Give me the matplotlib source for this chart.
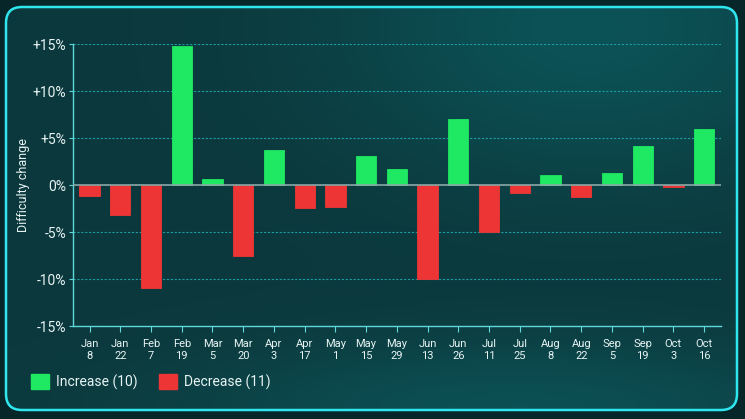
import matplotlib.pyplot as plt
import numpy as np
from matplotlib.patches import FancyBboxPatch, Patch

labels = ['Jan\n8', 'Jan\n22', 'Feb\n7', 'Feb\n19', 'Mar\n5', 'Mar\n20', 'Apr\n3',
          'Apr\n17', 'May\n1', 'May\n15', 'May\n29', 'Jun\n13', 'Jun\n26', 'Jul\n11',
          'Jul\n25', 'Aug\n8', 'Aug\n22', 'Sep\n5', 'Sep\n19', 'Oct\n3', 'Oct\n16']
changes = [-1.2, -3.2, -11.0, 14.8, 0.6, -7.6, 3.7, -2.4, -2.3, 3.1, 1.7,
           -10.0, 7.0, -5.0, -0.8, 1.1, -1.25, 1.25, 4.1, -0.2, 6.0]
yticks = [-15, -10, -5, 0, 5, 10, 15]
ytick_labels = ['-15%', '-10%', '-5%', '0%', '+5%', '+10%', '+15%']

green = '#1fe862'
red = '#ee3535'
text_col = '#e8f4f4'

plt.rcParams['font.family'] = ['Roboto', 'DejaVu Sans']

W, H = 745, 419
fig = plt.figure(figsize=(W / 100, H / 100), dpi=100)
fig.patch.set_facecolor('#06262a')

# card background with gradient
bg = fig.add_axes([0, 0, 1, 1], zorder=-5)
bg.set_xlim(0, W)
bg.set_ylim(H, 0)
bg.axis('off')
gx, gy = np.meshgrid(np.linspace(0, 1, 200), np.linspace(0, 1, 120))
glow = 0.55 * np.exp(-((gx - 0.8) ** 2 / 0.12 + (gy - 0.05) ** 2 / 0.15))
glow += 0.5 * np.exp(-((gx - 0.7) ** 2 / 0.2 + (gy - 1.0) ** 2 / 0.03))
c0 = np.array([0x0b, 0x38, 0x3c]) / 255
c1 = np.array([0x0c, 0x68, 0x6c]) / 255
img = c0 + glow[..., None] * (c1 - c0)
card = FancyBboxPatch((6, 7), 731, 403, boxstyle='round,pad=0,rounding_size=16',
                      facecolor='none', edgecolor='#2fe6ee', linewidth=1.8, zorder=3)
bg.add_patch(card)
im = bg.imshow(img, extent=(6, 737, 410, 7), aspect='auto', zorder=1)
im.set_clip_path(card)

ax = fig.add_axes([73 / W, 1 - 326 / H, (721 - 73) / W, (326 - 44) / H])
ax.set_facecolor('none')
x = np.arange(len(changes))
colors = [green if v > 0 else red for v in changes]
ax.bar(x, changes, width=0.66, color=colors, edgecolor=colors, linewidth=0.6, zorder=3)

ax.set_xlim(-0.54, len(changes) - 0.45)
ax.set_ylim(-15, 15)
ax.set_yticks(yticks)
ax.set_yticklabels(ytick_labels, fontsize=10, color=text_col)
ax.set_xticks(x)
ax.set_xticklabels(labels, fontsize=8, color=text_col, linespacing=1.3)
for y in [-10, -5, 5, 10, 15]:
    ax.axhline(y, color='#1a9ea4', linewidth=0.8, linestyle=(0, (2, 1.5)), zorder=1)
ax.axhline(0, color='#8aa8a8', linewidth=1.2, zorder=4)

for s in ['top', 'right']:
    ax.spines[s].set_visible(False)
for s in ['left', 'bottom']:
    ax.spines[s].set_color('#5fd8dc')
    ax.spines[s].set_linewidth(1.0)
ax.tick_params(axis='x', colors='#5fd8dc', length=4, pad=5, labelcolor=text_col)
ax.tick_params(axis='y', colors='#5fd8dc', length=3, pad=2, labelcolor=text_col)
ax.set_ylabel('Difficulty change', fontsize=9, color=text_col, labelpad=2)

handles = [Patch(facecolor=green, edgecolor=green, label='Increase (10)'),
           Patch(facecolor=red, edgecolor=red, label='Decrease (11)')]
fig.legend(handles=handles, loc='center left', bbox_to_anchor=(18 / W, 1 - 382 / H),
           ncol=2, frameon=False, fontsize=10, labelcolor=text_col,
           handlelength=1.3, handleheight=1.3, columnspacing=1.6, handletextpad=0.5)

fig.savefig('out.png', dpi=100, facecolor=fig.get_facecolor())
